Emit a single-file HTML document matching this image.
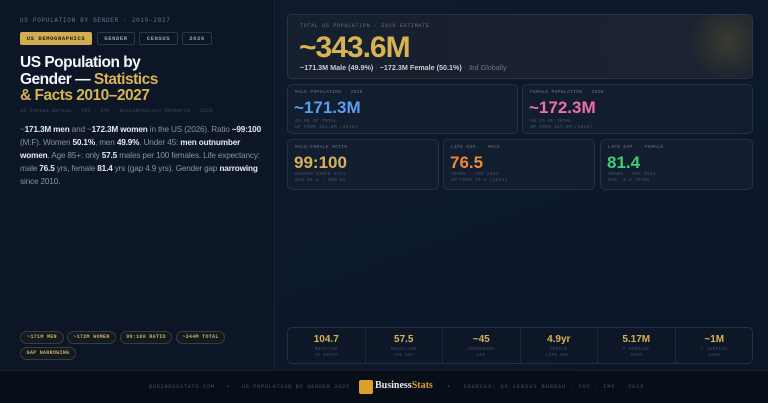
<!DOCTYPE html>
<html><head><meta charset="utf-8"><style>
*{box-sizing:border-box;margin:0;padding:0}
body{width:768px;height:403px;overflow:hidden;background:#0c1628;font-family:"Liberation Sans",sans-serif;position:relative;color:#e8ecf2}
.mono{font-family:"Liberation Mono",monospace;white-space:nowrap}
.left{position:absolute;left:0;top:0;width:275px;height:370px;background:#0c1627;border-right:1px solid #1a2538}
.right{position:absolute;left:276px;top:0;width:492px;height:370px;background:linear-gradient(160deg,#0e1a2e,#0b1628)}
.ab{position:absolute}
.kick{left:20px;top:17px;font-size:6px;letter-spacing:.7px;color:#6b7486}
.tag{position:absolute;top:32px;height:13px;border:1px solid #2e3644;border-radius:2px;font-size:5.5px;letter-spacing:.6px;color:#9aa2b0;text-align:center;line-height:11px;font-weight:bold}
h1{position:absolute;left:20px;top:55px;font-size:15.5px;line-height:16.5px;font-weight:bold;color:#f4f6fa;white-space:nowrap;letter-spacing:-.5px}
h1 span{color:#d9b353}
.src{left:20px;top:108px;font-size:5.2px;color:#3e4758;letter-spacing:.1px}
.para{left:20px;top:124px;width:245px;font-size:8.2px;line-height:12.9px;color:#8891a0;letter-spacing:-.15px}
.para b{color:#e6e9ef}
.chip{position:absolute;height:13px;border:1px solid #3c3e36;border-radius:7px;background:#121a24;font-size:5px;font-weight:bold;color:#d0ad55;line-height:11px;text-align:center;letter-spacing:.3px}
.card{position:absolute;border:1px solid #263146;border-radius:5px;background:#121d2f}
.lab{font-size:4.8px;letter-spacing:.2px;color:#6b7486;position:absolute;left:7px;top:5px}
.big{position:absolute;left:6px;top:13px;font-size:17px;font-weight:bold}
.sub{position:absolute;left:7px;font-size:4.8px;letter-spacing:.1px;color:#4a5467;line-height:6.4px}
.foot{position:absolute;left:0;top:370px;width:768px;height:33px;background:#080e18;border-top:1px solid #141c2a}
.stat{position:absolute;top:0;width:77.5px;height:36px;text-align:center;border-right:1px solid #1e293b}
.stat .v{font-size:10px;font-weight:bold;color:#d9b353;margin-top:6px}
.stat .s{font-size:4.3px;color:#465063;letter-spacing:.3px;line-height:6px;margin-top:2px}
</style></head><body>
<div class="left">
<div class="ab kick mono">US POPULATION BY GENDER · 2010–2027</div>
<div class="tag mono" style="left:20px;width:72px;background:#d2ac51;border-color:#d2ac51;color:#1a1a1a">US DEMOGRAPHICS</div>
<div class="tag mono" style="left:97px;width:38px">GENDER</div>
<div class="tag mono" style="left:139px;width:39px">CENSUS</div>
<div class="tag mono" style="left:182px;width:30px">2026</div>
<h1>US Population by<br>Gender — <span>Statistics<br>&amp; Facts 2010–2027</span></h1>
<div class="ab src mono">US Census Bureau · CDC · IMF · BusinessStats Research · 2026</div>
<div class="ab para">~<b>171.3M men</b> and ~<b>172.3M women</b> in the US (2026). Ratio <b>~99:100</b> (M:F). Women <b>50.1%</b>, men <b>49.9%</b>. Under 45: <b>men outnumber women</b>. Age 85+: only <b>57.5</b> males per 100 females. Life expectancy: male <b>76.5</b> yrs, female <b>81.4</b> yrs (gap 4.9 yrs). Gender gap <b>narrowing</b> since 2010.</div>
<div class="chip mono" style="left:20px;top:331px;width:44px">~171M MEN</div>
<div class="chip mono" style="left:67px;top:331px;width:49px">~172M WOMEN</div>
<div class="chip mono" style="left:120px;top:331px;width:52px">99:100 RATIO</div>
<div class="chip mono" style="left:176px;top:331px;width:49px">~344M TOTAL</div>
<div class="chip mono" style="left:20px;top:347px;width:56px">GAP NARROWING</div>
</div>
<div class="right"></div>
<div class="card" style="left:287px;top:14px;width:466px;height:65px;background:radial-gradient(circle at 440px 27px,#3a3a30 0,#1c2330 40px,#161f2d 100%);border-color:#2d3340">
<div class="lab mono" style="left:12px;top:8px;font-size:5px;letter-spacing:.7px">TOTAL US POPULATION · 2026 ESTIMATE</div>
<div class="ab" style="left:11px;top:16px;font-size:30px;font-weight:bold;color:#d9b353;letter-spacing:-1px">~343.6M</div>
<div class="ab" style="left:12px;top:48px;font-size:7.2px;color:#c8ccd4;white-space:nowrap"><b>~171.3M Male (49.9%)</b> <span style="color:#555e6e">·</span> <b>~172.3M Female (50.1%)</b> <span style="color:#6e7685">· 3rd Globally</span></div>
</div>
<div class="card" style="left:287px;top:84px;width:231px;height:50px">
<div class="lab mono">MALE POPULATION · 2026</div><div class="big" style="color:#5b9df0">~171.3M</div>
<div class="sub mono" style="top:34px">49.9% OF TOTAL<br>UP FROM 151.8M (2010)</div></div>
<div class="card" style="left:522px;top:84px;width:231px;height:50px">
<div class="lab mono">FEMALE POPULATION · 2026</div><div class="big" style="color:#ee6fa8">~172.3M</div>
<div class="sub mono" style="top:34px">50.1% OF TOTAL<br>UP FROM 157.5M (2010)</div></div>
<div class="card" style="left:287px;top:139px;width:152px;height:51px">
<div class="lab mono">MALE:FEMALE RATIO</div><div class="big" style="color:#d9b353">99:100</div>
<div class="sub mono" style="top:32px">RISING SINCE 1971<br>WAS 94.6 → NOW 99</div></div>
<div class="card" style="left:443px;top:139px;width:152px;height:51px">
<div class="lab mono">LIFE EXP. · MALE</div><div class="big" style="color:#ef8a34">76.5</div>
<div class="sub mono" style="top:32px">YEARS · CDC 2024<br>UP FROM 73.5 (2021)</div></div>
<div class="card" style="left:600px;top:139px;width:153px;height:51px">
<div class="lab mono">LIFE EXP. · FEMALE</div><div class="big" style="color:#3fcf74">81.4</div>
<div class="sub mono" style="top:32px">YEARS · CDC 2024<br>GAP: 4.9 YEARS</div></div>
<div class="card" style="left:287px;top:327px;width:466px;height:37px;background:#0d1727;overflow:hidden">
<div class="stat" style="left:0"><div class="v">104.7</div><div class="s mono">BOYS/100<br>AT BIRTH</div></div>
<div class="stat" style="left:77.5px"><div class="v">57.5</div><div class="s mono">MALES/100<br>AGE 85+</div></div>
<div class="stat" style="left:155px"><div class="v">~45</div><div class="s mono">CROSSOVER<br>AGE</div></div>
<div class="stat" style="left:232.5px"><div class="v">4.9yr</div><div class="s mono">FEMALE<br>LIFE ADV.</div></div>
<div class="stat" style="left:310px"><div class="v">5.17M</div><div class="s mono">F SURPLUS<br>2010</div></div>
<div class="stat" style="left:387.5px;border:none"><div class="v">~1M</div><div class="s mono">F SURPLUS<br>2026</div></div>
</div>
<div class="foot">
<div class="ab mono" style="left:149px;top:13px;font-size:5.2px;letter-spacing:.75px;color:#4a5466">BUSINESSSTATS.COM &nbsp;&nbsp;•&nbsp;&nbsp; US POPULATION BY GENDER 2026 &nbsp;&nbsp;•</div>
<div class="ab" style="left:359px;top:9px;width:14px;height:14px;background:#d9a12b;border-radius:2px"></div>
<div class="ab" style="left:375px;top:9px;font-family:'Liberation Serif',serif;font-weight:bold;font-size:10px;color:#e8e8e8">Business<span style="color:#d9a12b">Stats</span></div>
<div class="ab mono" style="left:447px;top:13px;font-size:5.2px;letter-spacing:1px;color:#4a5466">• &nbsp;&nbsp;SOURCES: US CENSUS BUREAU · CDC · IMF · 2026</div>
</div>
</body></html>
